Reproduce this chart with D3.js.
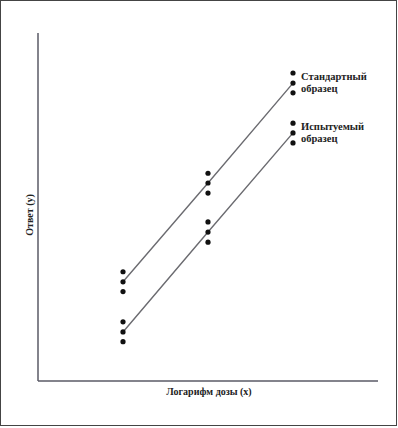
<!DOCTYPE html>
<html><head><meta charset="utf-8">
<script src="https://cdn.jsdelivr.net/npm/d3@7"></script>
<style>html,body{margin:0;padding:0;background:#fff;}svg{display:block;}
text{font-family:"Liberation Serif","Times New Roman","DejaVu Serif",serif;}</style>
</head><body>
<script>
const doses = [1, 2, 3];
const standardValues = [[31.4, 28.5, 25.7], [59.7, 56.9, 54.0], [88.5, 85.6, 82.8]];
const testValues = [[17.0, 14.1, 11.3], [45.7, 42.8, 39.9], [74.1, 71.3, 68.4]];
const seriesLabels = [["Стандартный", "образец"], ["Испытуемый", "образец"]];
const xLabel = "Логарифм дозы (x)";
const yLabel = "Ответ (y)";

const W = 398, H = 428;
const svg = d3.select("body").append("svg").attr("width", W).attr("height", H);
svg.append("rect").attr("x", 0.5).attr("y", 0.5).attr("width", W - 2).attr("height", H - 3)
  .attr("fill", "#fff").attr("stroke", "#444").attr("stroke-width", 1);

const x = d3.scaleLinear().domain([0, 4]).range([38, 378]);
const y = d3.scaleLinear().domain([0, 100]).range([381, 33]);

const g = svg.append("g");
g.append("line").attr("x1", x(0)).attr("x2", x(0)).attr("y1", y(100)).attr("y2", y(0))
  .attr("stroke", "#5a5a66").attr("stroke-width", 1.5);
g.append("line").attr("x1", x(0)).attr("x2", x(4)).attr("y1", y(0)).attr("y2", y(0))
  .attr("stroke", "#5a5a66").attr("stroke-width", 1.5);

const series = [standardValues, testValues];
series.forEach((vals, si) => {
  const means = vals.map((v, i) => ({x: doses[i], y: v[1]}));
  g.append("path").datum(means)
    .attr("d", d3.line().x(d => x(d.x)).y(d => y(d.y)))
    .attr("fill", "none").attr("stroke", "#6b6b70").attr("stroke-width", 1.4);
  vals.forEach((v, i) => {
    g.selectAll(null).data(v).enter().append("circle")
      .attr("cx", x(doses[i])).attr("cy", d => y(d)).attr("r", 2.6).attr("fill", "#111");
  });
  const top = vals[vals.length - 1];
  const t = g.append("text").attr("x", x(doses[doses.length - 1]) + 8)
    .attr("y", y(top[1]) - 3)
    .attr("font-weight", "bold")
    .attr("font-size", 10.5).attr("fill", "#222");
  seriesLabels[si].forEach((s, k) => t.append("tspan").attr("x", x(doses[doses.length - 1]) + 8)
    .attr("dy", k === 0 ? 0 : 12).text(s));
});

g.append("text").attr("x", (x(0) + x(4)) / 2 + 1).attr("y", 395)
  .attr("text-anchor", "middle")
  .attr("font-weight", "bold").attr("font-size", 10).attr("fill", "#222").text(xLabel);
g.append("text").attr("transform", "translate(33,215) rotate(-90)")
  .attr("text-anchor", "middle")
  .attr("font-weight", "bold").attr("font-size", 10).attr("fill", "#222").text(yLabel);
</script>
</body></html>
